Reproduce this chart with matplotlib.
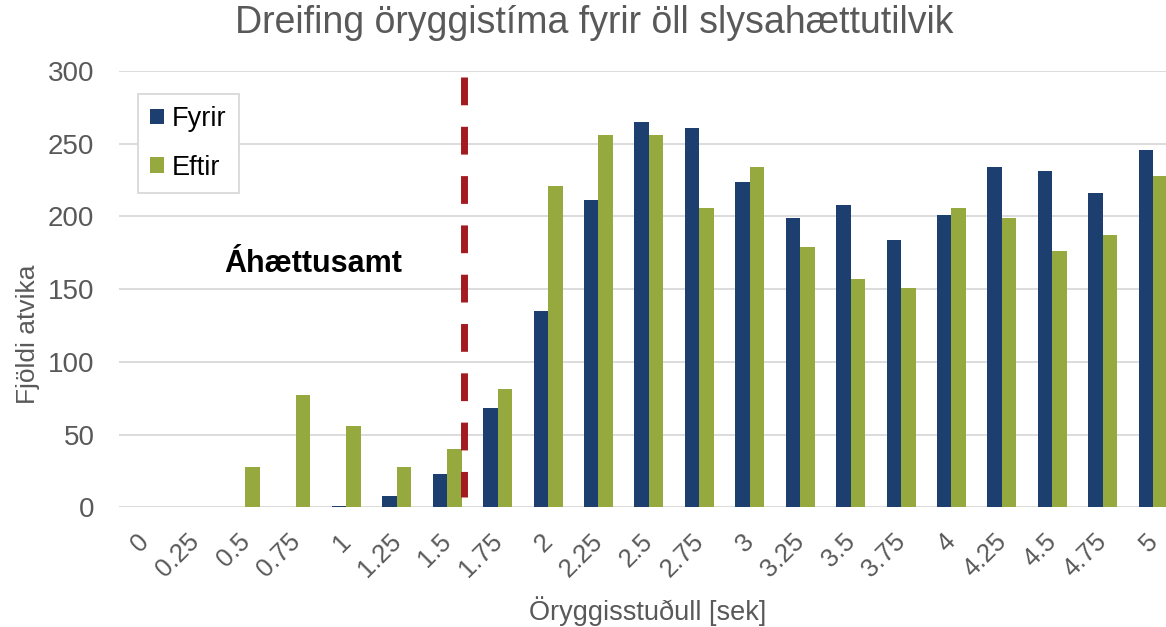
import matplotlib

matplotlib.use('Agg')
import matplotlib.pyplot as plt
from matplotlib.transforms import ScaledTranslation
import numpy as np

plt.rcParams['font.family'] = ['Liberation Sans', 'DejaVu Sans']

# --- data ---
categories = ['0', '0.25', '0.5', '0.75', '1', '1.25', '1.5', '1.75', '2', '2.25',
              '2.5', '2.75', '3', '3.25', '3.5', '3.75', '4', '4.25', '4.5', '4.75', '5']
fyrir = [0, 0, 0, 0, 1, 8, 23, 68, 135, 211, 265, 261, 224, 199, 208, 184, 201, 234, 231, 216, 246]
eftir = [0, 0, 28, 77, 56, 28, 40, 81, 221, 256, 256, 206, 234, 179, 157, 151, 206, 199, 176, 187, 228]
y_ticks = [0, 50, 100, 150, 200, 250, 300]

# threshold marker (between 1.5 and 1.75 on the category axis)
threshold_pos = 6.34
threshold_span = (7.3, 296)

C_FYRIR = '#1D3F70'
C_EFTIR = '#95A93F'
C_RED = '#A31B20'
C_GRID = '#D9D9D9'
C_TEXT = '#595959'

W, H = 1166, 627
fig = plt.figure(figsize=(W / 100, H / 100), dpi=100)
ax = fig.add_axes([119.4 / W, (H - 507.3) / H, 1059 / W, 436.3 / H])

x = np.arange(len(categories))
bw = 0.2875
ax.bar(x - bw / 2, fyrir, bw, color=C_FYRIR, label='Fyrir', zorder=3)
ax.bar(x + bw / 2, eftir, bw, color=C_EFTIR, label='Eftir', zorder=3)

ax.plot([threshold_pos, threshold_pos], [threshold_span[1], threshold_span[0]],
        color=C_RED, lw=5, dashes=(4.0, 3.1), solid_capstyle='butt', zorder=4)

ax.set_xlim(-0.5, len(categories) - 0.5)
ax.set_ylim(0, 300)
ax.set_yticks(y_ticks)
ax.grid(axis='y', color=C_GRID, lw=1.3, zorder=0)
ax.set_axisbelow(True)
for s in ax.spines.values():
    s.set_visible(False)

ax.tick_params(axis='both', length=0)
ax.tick_params(axis='y', pad=18, labelsize=20, labelcolor=C_TEXT)
ax.set_xticks(x)
ax.set_xticklabels(categories, rotation=45, ha='right', va='top',
                   rotation_mode='anchor', fontsize=18.5, color=C_TEXT)
ax.tick_params(axis='x', pad=16)
shift = ScaledTranslation(-8 / 100, 0, fig.dpi_scale_trans)
for lab in ax.get_xticklabels():
    lab.set_transform(lab.get_transform() + shift)

leg = ax.legend(loc='upper left', bbox_to_anchor=(0.0176, 0.947), fontsize=19.5,
                frameon=True, fancybox=False, edgecolor=C_GRID, framealpha=1,
                handlelength=0.5, handleheight=0.5, handletextpad=0.3,
                labelspacing=0.82, borderpad=0.45, borderaxespad=0)
leg.get_frame().set_linewidth(1.3)

fig.text(594.5 / W, (H - 33) / H, 'Dreifing öryggistíma fyrir öll slysahættutilvik',
         ha='center', va='baseline', fontsize=27, color=C_TEXT)
fig.text(224 / W, (H - 272.3) / H, 'Áhættusamt', ha='left', va='baseline',
         fontsize=22, fontweight='bold', color='black')
fig.text(28 / W, (H - 334) / H, 'Fjöldi atvika', rotation=90, ha='center', va='center',
         fontsize=19, color=C_TEXT)
fig.text(647.5 / W, (H - 620) / H, 'Öryggisstuðull [sek]', ha='center', va='baseline',
         fontsize=19.5, color=C_TEXT)

fig.savefig('out.png', dpi=100)
